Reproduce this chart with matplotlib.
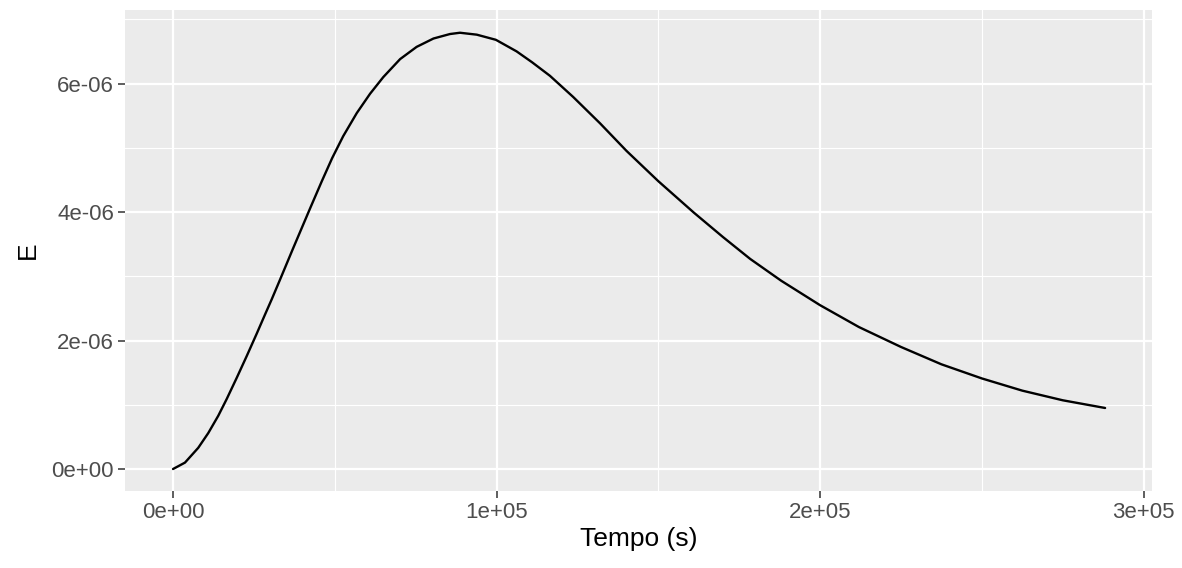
import matplotlib
matplotlib.use('Agg')
import matplotlib.pyplot as plt
from matplotlib.ticker import MultipleLocator, FuncFormatter

# curve
tempo = [0, 3700, 7800, 10900, 14000, 16600, 19700, 22800, 25900, 28400,
         30500, 33100, 37000, 42400, 46000, 49200, 52600, 56800, 60900, 65000,
         70200, 75300, 80500, 85600, 88700, 93900, 99800, 106200, 111000, 116500,
         123700, 132000, 140200, 150000, 161000, 170000, 178400, 188000, 200000,
         212000, 225000, 237500, 250000, 262500, 275000, 288100]
e_vals = [0.0, 0.10e-6, 0.33e-6, 0.56e-6, 0.83e-6, 1.09e-6, 1.42e-6, 1.76e-6, 2.11e-6, 2.40e-6,
          2.64e-6, 2.95e-6, 3.42e-6, 4.06e-6, 4.48e-6, 4.84e-6, 5.18e-6, 5.54e-6, 5.84e-6, 6.10e-6,
          6.38e-6, 6.57e-6, 6.70e-6, 6.77e-6, 6.79e-6, 6.76e-6, 6.68e-6, 6.50e-6, 6.33e-6, 6.12e-6,
          5.79e-6, 5.38e-6, 4.95e-6, 4.48e-6, 3.99e-6, 3.61e-6, 3.27e-6, 2.93e-6, 2.55e-6,
          2.21e-6, 1.90e-6, 1.63e-6, 1.41e-6, 1.22e-6, 1.07e-6, 0.95e-6]

x_ticks = [0, 1e5, 2e5, 3e5]
y_ticks = [0, 2e-6, 4e-6, 6e-6]

plt.rcParams['font.family'] = ['Liberation Sans', 'DejaVu Sans']

fig = plt.figure(figsize=(11.82, 5.68), dpi=100)
ax = fig.add_axes([125 / 1182, 1 - 491 / 568, 1027 / 1182, 481 / 568])

ax.set_facecolor('#EBEBEB')
for side in ax.spines.values():
    side.set_visible(False)

ax.plot(tempo, e_vals, color='black', lw=1.7, zorder=3,
        solid_joinstyle='round', solid_capstyle='round')

ax.set_xlim(-14840, 302600)
ax.set_ylim(-0.342e-6, 7.144e-6)

ax.set_xticks(x_ticks)
ax.set_yticks(y_ticks)
ax.xaxis.set_minor_locator(MultipleLocator(5e4))
ax.yaxis.set_minor_locator(MultipleLocator(1e-6))
sci = FuncFormatter(lambda v, _: '{:.0e}'.format(v))
ax.xaxis.set_major_formatter(sci)
ax.yaxis.set_major_formatter(sci)

ax.grid(which='major', color='white', lw=1.6, zorder=0)
ax.grid(which='minor', color='white', lw=0.8, zorder=0)
ax.set_axisbelow(True)

ax.tick_params(which='major', length=5, width=1.1, color='#333333',
               labelcolor='#4D4D4D', labelsize=16, pad=3)
ax.tick_params(which='minor', length=0)

ax.set_xlabel('Tempo (s)', fontsize=19, labelpad=3)
ax.set_ylabel('E', fontsize=19, labelpad=8)

fig.savefig('out.png', dpi=100)
